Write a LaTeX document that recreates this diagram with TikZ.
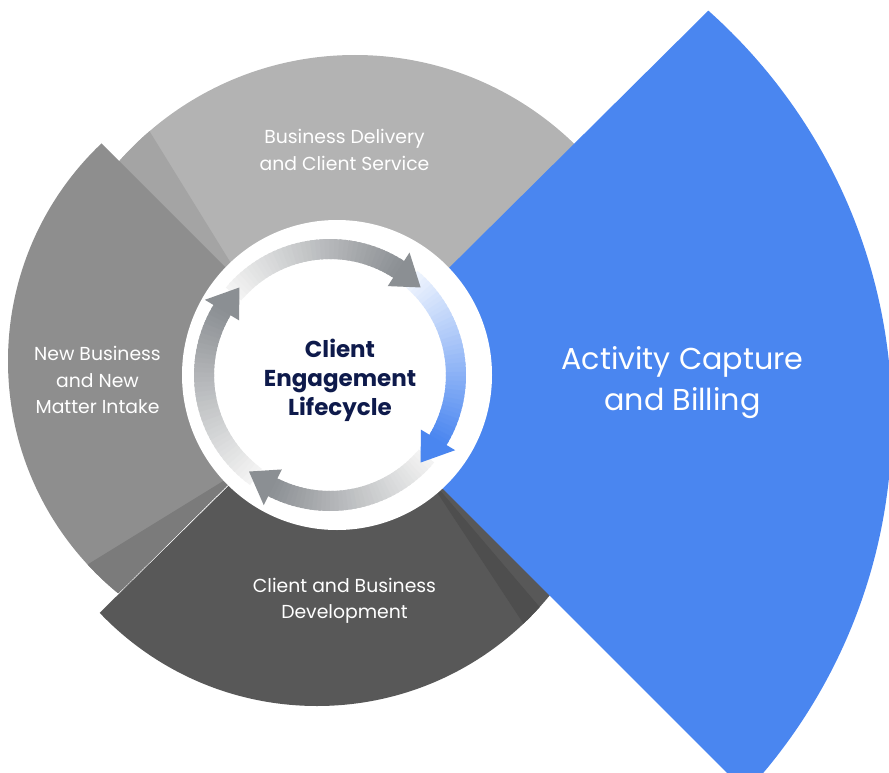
\documentclass[tikz,border=0pt]{standalone}
\usepackage{fontspec}
\setmainfont{Poppins}
\definecolor{topg}{HTML}{B3B3B3}
\definecolor{topsh}{HTML}{A4A4A4}
\definecolor{leftg}{HTML}{8E8E8E}
\definecolor{leftsh}{HTML}{7B7B7B}
\definecolor{botg}{HTML}{585858}
\definecolor{botsh}{HTML}{4E4E4E}
\definecolor{bluef}{HTML}{4A86F0}
\definecolor{navy}{HTML}{0E1A4B}
\definecolor{arrg}{HTML}{8B8F93}
\definecolor{arrl}{HTML}{F4F4F4}
\definecolor{bluel}{HTML}{F0F5FE}
\tikzset{
  lbl/.style={text=white, align=center, font=\fontsize{18.8}{26.5}\selectfont, inner sep=0pt},
  biglbl/.style={text=white, align=center, font=\fontsize{30.2}{41}\selectfont, inner sep=0pt},
  ctrlbl/.style={text=navy, align=center, font=\fontsize{23}{29}\selectfont\bfseries, inner sep=0pt}
}
\def\rin{116}
\def\rout{136}
\def\rmid{126}
% band: tail angle, base angle, dark colour, light colour
\newcommand\arrowband[4]{%
  \foreach \k in {0,...,39}{%
    \pgfmathsetmacro\sa{#1-(#1-(#2))*\k/40}%
    \pgfmathsetmacro\sb{#1-(#1-(#2))*min(\k+1.6,40.3)/40}%
    \pgfmathtruncatemacro\pc{100*(\k+0.5)/40}%
    \fill[#3!\pc!#4] (\sa:\rout) -- (\sb:\rout) -- (\sb:\rin) -- (\sa:\rin) -- cycle;
  }}
\newcommand\arrowhead[3]{% base, tip, colour
  \fill[#3] (#1:{\rin-10}) -- (#1:{\rout+10}) -- (#2:\rmid) -- cycle;}
\begin{document}
\begin{tikzpicture}[x=1pt,y=-1pt]
\useasboundingbox (0,0) rectangle (889,773);
\clip (0,0) rectangle (889,773);
% top sector
\begin{scope}
  \clip (-300,-300) rectangle (950,379);
  \fill[topg] (355,370) circle[radius=315pt];
  \clip (355,370) circle[radius=315pt];
  \fill[topsh] (250,294) -- (100,51) -- (-300,-300) -- (-300,379) -- (250,379) -- cycle;
\end{scope}
% left sector
\begin{scope}
  \clip (336,378) -- (-134,-92) -- (-400,378) -- (-137,846) -- cycle;
  \fill[leftg] (308,361) circle[radius=300pt];
  \clip (308,361) circle[radius=300pt];
  \fill[leftsh] (246,467) -- (-66,659) -- (-137,846) -- cycle;
\end{scope}
% bottom sector
\begin{scope}
  \clip (336,380) -- (-137,846) -- (336,1300) -- (1100,380) -- cycle;
  \fill[botg] (317,406) circle[radius=300pt];
  \clip (317,406) circle[radius=300pt];
  \fill[botsh] (421,468) -- (727,933) -- (921,1054) -- cycle;
\end{scope}
% blue sector
\begin{scope}
  \clip (335,381) -- (835,-115) -- (1100,-115) -- (1100,1000) -- (954,1000) -- cycle;
  \fill[bluef] (344,420) circle[radius=548pt];
\end{scope}
% white disk
\fill[white] (337,375) circle[radius=155pt];
% arrows
\begin{scope}[shift={(330,375)}, yscale=-1]
  \arrowband{140}{57}{arrg}{arrl}
  \arrowband{50}{-31}{bluef}{bluel}
  \arrowband{-40}{-117}{arrg}{arrl}
  \arrowband{234}{149}{arrg}{arrl}
  \arrowhead{57}{44}{arrg}
  \arrowhead{-31}{-44}{bluef}
  \arrowhead{-117}{-130}{arrg}
  \arrowhead{149}{136}{arrg}
\end{scope}
% labels
\node[lbl] (bd) at (344.5,150) {Business Delivery\\and Client Service};
\node[lbl] (nb) at (97.5,380) {New Business\\and New\\Matter Intake};
\node[lbl] (cb) at (344.5,601) {Client and Business\\Development};
\node[biglbl] (ac) at (682.5,383) {Activity Capture\\and Billing};
\node[ctrlbl] (ce) at (340,380) {Client\\Engagement\\Lifecycle};
\end{tikzpicture}
\end{document}
